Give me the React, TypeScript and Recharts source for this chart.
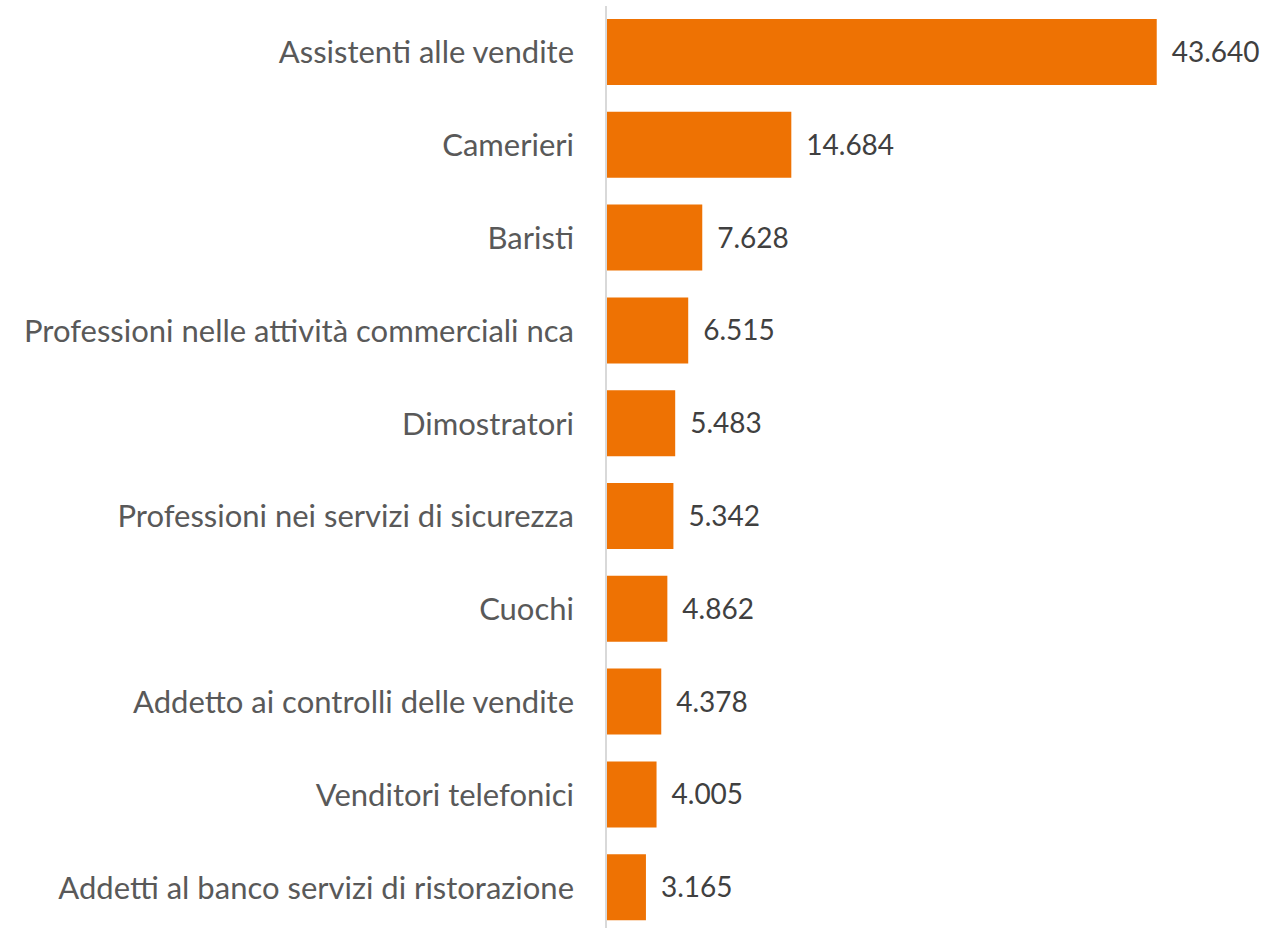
import { BarChart, Bar, XAxis, YAxis, LabelList } from 'recharts'

const professions = [
  'Assistenti alle vendite',
  'Camerieri',
  'Baristi',
  'Professioni nelle attività commerciali nca',
  'Dimostratori',
  'Professioni nei servizi di sicurezza',
  'Cuochi',
  'Addetto ai controlli delle vendite',
  'Venditori telefonici',
  'Addetti al banco servizi di ristorazione',
]

const hires = [43640, 14684, 7628, 6515, 5483, 5342, 4862, 4378, 4005, 3165]

const data = professions.map((name, i) => ({ name, value: hires[i] }))

// thousands with a dot, Italian style
function formatNumber(v: number): string {
  return String(v).replace(/\B(?=(\d{3})+(?!\d))/g, '.')
}

const FONT = 'Lato, "Noto Sans", sans-serif'

export default function App() {
  return (
    <div
      style={{
        position: 'absolute',
        left: 0,
        top: 0,
        width: 1283,
        height: 928,
        overflow: 'hidden',
        background: '#fff',
        fontFamily: FONT,
      }}
    >
      <BarChart
        width={1283}
        height={934}
        data={data}
        layout="vertical"
        margin={{ top: 6, right: 46, bottom: 0, left: 0 }}
      >
        <XAxis type="number" domain={[0, 50000]} hide />
        <YAxis
          type="category"
          dataKey="name"
          width={606}
          tickLine={false}
          tickSize={0}
          tickMargin={32}
          axisLine={{ stroke: '#d9d9d9', strokeWidth: 2 }}
          tick={{ fill: '#595959', fontSize: 31, fontFamily: FONT }}
          interval={0}
        />
        <Bar dataKey="value" fill="#ee7203" barSize={66} isAnimationActive={false}>
          <LabelList
            dataKey="value"
            position="right"
            offset={15}
            formatter={(v: any) => formatNumber(Number(v))}
            style={{ fill: '#404040', fontSize: 28, fontFamily: FONT }}
          />
        </Bar>
      </BarChart>
    </div>
  )
}
